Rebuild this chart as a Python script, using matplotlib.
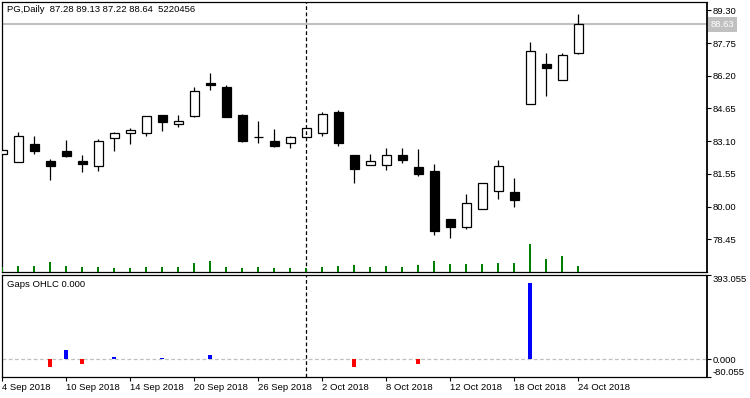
import matplotlib
matplotlib.use('Agg')
import matplotlib.pyplot as plt
import numpy as np

# ---------------- data ----------------
header = "PG,Daily  87.28 89.13 87.22 88.64  5220456"
indicator_title = "Gaps OHLC 0.000"

opens = [82.49, 82.11, 82.95, 82.15, 82.62, 82.15, 81.90, 83.27, 83.51, 83.51,
         84.33, 83.93, 84.30, 85.84, 85.65, 84.33, 83.28, 83.09, 83.03, 83.32,
         83.49, 84.47, 82.45, 81.99, 81.99, 82.43, 81.86, 81.67, 79.40, 79.03,
         79.89, 80.74, 80.71, 84.88, 86.74, 86.02, 87.28]
highs = [82.75, 83.52, 83.33, 82.24, 83.14, 82.45, 83.19, 83.52, 83.71, 84.28,
         84.33, 84.33, 85.65, 86.32, 85.75, 84.39, 84.04, 83.66, 83.33, 83.71,
         84.47, 84.56, 82.45, 82.48, 82.76, 82.76, 82.72, 82.00, 79.40, 80.58,
         81.12, 82.19, 81.37, 87.79, 87.27, 87.30, 89.13]
lows = [82.45, 82.10, 82.49, 81.26, 82.35, 81.64, 81.69, 82.64, 82.97, 83.35,
        83.58, 83.77, 84.25, 85.53, 84.25, 83.06, 83.01, 82.82, 82.78, 83.30,
        83.35, 82.87, 81.12, 81.99, 81.73, 82.07, 81.45, 78.65, 78.51, 78.94,
        79.87, 80.36, 79.98, 84.88, 85.24, 86.02, 87.22]
closes = [82.70, 83.33, 82.64, 81.92, 82.40, 82.02, 83.13, 83.47, 83.62, 84.28,
          84.01, 84.04, 85.46, 85.76, 84.25, 83.11, 83.28, 82.87, 83.28, 83.71,
          84.37, 83.01, 81.80, 82.18, 82.43, 82.21, 81.55, 78.84, 79.03, 80.16,
          81.10, 81.90, 80.31, 87.39, 86.57, 87.20, 88.64]
volumes = [4350000, 5220000, 5220000, 8700000, 5220000, 4350000, 4350000, 3480000,
           3480000, 4350000, 4350000, 4350000, 7830000, 9570000, 4350000, 3480000,
           4350000, 3480000, 3480000, 3480000, 4350000, 5220000, 6090000, 4350000,
           5220000, 4350000, 6090000, 9570000, 6960000, 6960000, 6960000, 7830000,
           7830000, 24360000, 11310000, 13920000, 5220456]
gaps = [0, 0, 0, -37, 43, -19, 0, 11, 0, 0,
        6, 0, 0, 20, 0, 0, 0, 0, 0, 4.6,
        0, 0, -33, 0, 0, 0, -22, 0, 0, 0,
        0, 0, 0, 356, 0, 0, 0]

tick_pos = [0, 4, 8, 12, 16, 20, 24, 28, 32, 36]
tick_labels = ['4 Sep 2018', '10 Sep 2018', '14 Sep 2018', '20 Sep 2018',
               '26 Sep 2018', '2 Oct 2018', '8 Oct 2018', '12 Oct 2018',
               '18 Oct 2018', '24 Oct 2018']
price_ticks = [89.30, 87.75, 86.20, 84.65, 83.10, 81.55, 80.00, 78.45]
gap_ticks = [393.055, 0.0, -80.055]
bid_price = 88.63
vline_bar = 19

# ---------------- layout ----------------
FONT = 'Liberation Sans'
FS = 6.8
W, H = 750, 398
fig = plt.figure(figsize=(W / 100, H / 100), dpi=100)
fig.patch.set_facecolor('white')


def rect(l, t, r, b):
    return [l / W, 1 - b / H, (r - l) / W, (b - t) / H]


ax = fig.add_axes(rect(2.3, 1.7, 706.7, 272.3))
ax2 = fig.add_axes(rect(2.3, 275.0, 706.7, 376.7))

x = np.arange(len(opens))
o = np.array(opens); c = np.array(closes)
hi = np.array(highs); lo = np.array(lows)

xlim = (0, 44.03)

# volume (own scale, drawn above the main layer)
axv = ax.twinx()
axv.bar(x, volumes, width=0.125, color='#008000', zorder=5)
axv.set_ylim(0, max(volumes) * 9.66)
axv.set_yticks([])
axv.tick_params(right=False, labelright=False, left=False)
for s in axv.spines.values():
    s.set_visible(False)
axv.set_xlim(*xlim)
axv.patch.set_visible(False)
axv.set_zorder(ax.get_zorder() + 1)

# candles
ax.vlines(x, lo, hi, color='black', linewidth=0.9, zorder=2)
body_bottom = np.minimum(o, c)
body_height = np.abs(c - o)
face = ['white' if cc > oo else 'black' for oo, cc in zip(o, c)]
ax.bar(x, body_height, bottom=body_bottom, width=0.5625, color=face,
       edgecolor='black', linewidth=0.9, zorder=3)

ax.axhline(bid_price, color='#c0c0c0', linewidth=1.5, zorder=1)
ax.axvline(vline_bar, color='black', linewidth=0.9, linestyle=(0, (3, 2)), zorder=4)

ax.set_xlim(*xlim)
ax.set_ylim(76.886, 89.708)
ax.yaxis.tick_right()
ax.set_yticks(price_ticks)
ax.set_yticklabels(['%.2f' % v for v in price_ticks], fontsize=FS, family=FONT)
ax.tick_params(axis='y', direction='out', length=3, width=0.8, pad=1.5)
ax.tick_params(axis='x', bottom=False, labelbottom=False)
ax.patch.set_facecolor('white')

# bid label
axv.annotate('%.2f' % bid_price, xy=(1.0, (bid_price - 76.886) / (89.708 - 76.886)),
             xycoords='axes fraction',
             xytext=(3.0, 0), textcoords='offset points', va='center', ha='left',
             fontsize=FS, family=FONT, color='white',
             bbox=dict(boxstyle='square,pad=0.3', fc='#c0c0c0', ec='none'),
             annotation_clip=False, zorder=10)

# gaps indicator
gcol = ['#0000ff' if g >= 0 else '#ff0000' for g in gaps]
ax2.bar(x, gaps, width=0.25, color=gcol, zorder=3)
ax2.axhline(0, color='#c0c0c0', linewidth=0.9, linestyle=(0, (3, 2)), zorder=1)
ax2.axvline(vline_bar, color='black', linewidth=0.9, linestyle=(0, (3, 2)), zorder=4)
ax2.set_xlim(*xlim)
ax2.set_ylim(-80.055, 393.055)
ax2.yaxis.tick_right()
ax2.set_yticks(gap_ticks)
ax2.set_yticklabels(['%.3f' % v for v in gap_ticks], fontsize=FS, family=FONT)
ylabs = ax2.get_yticklabels()
ylabs[0].set_va('top')
ylabs[-1].set_va('bottom')
ax2.tick_params(axis='y', direction='out', length=3, width=0.8, pad=1.5)
ax2.set_xticks(tick_pos)
ax2.set_xticklabels(tick_labels, fontsize=FS, family=FONT, ha='left')
ax2.tick_params(axis='x', direction='out', length=3.2, width=0.8, pad=1.5)

for a in (ax, ax2):
    for s in a.spines.values():
        s.set_color('black')
        s.set_linewidth(0.9)
    a.spines['right'].set_linestyle((0, (2, 1)))
    a.spines['right'].set_linewidth(1.3)

fig.text(6.7 / W, 1 - 10 / H, header, fontsize=FS, family=FONT, va='center', ha='left')
fig.text(6.7 / W, 1 - 284.5 / H, indicator_title, fontsize=FS, family=FONT,
         va='center', ha='left')

fig.savefig('out.png', dpi=100, facecolor='white')
